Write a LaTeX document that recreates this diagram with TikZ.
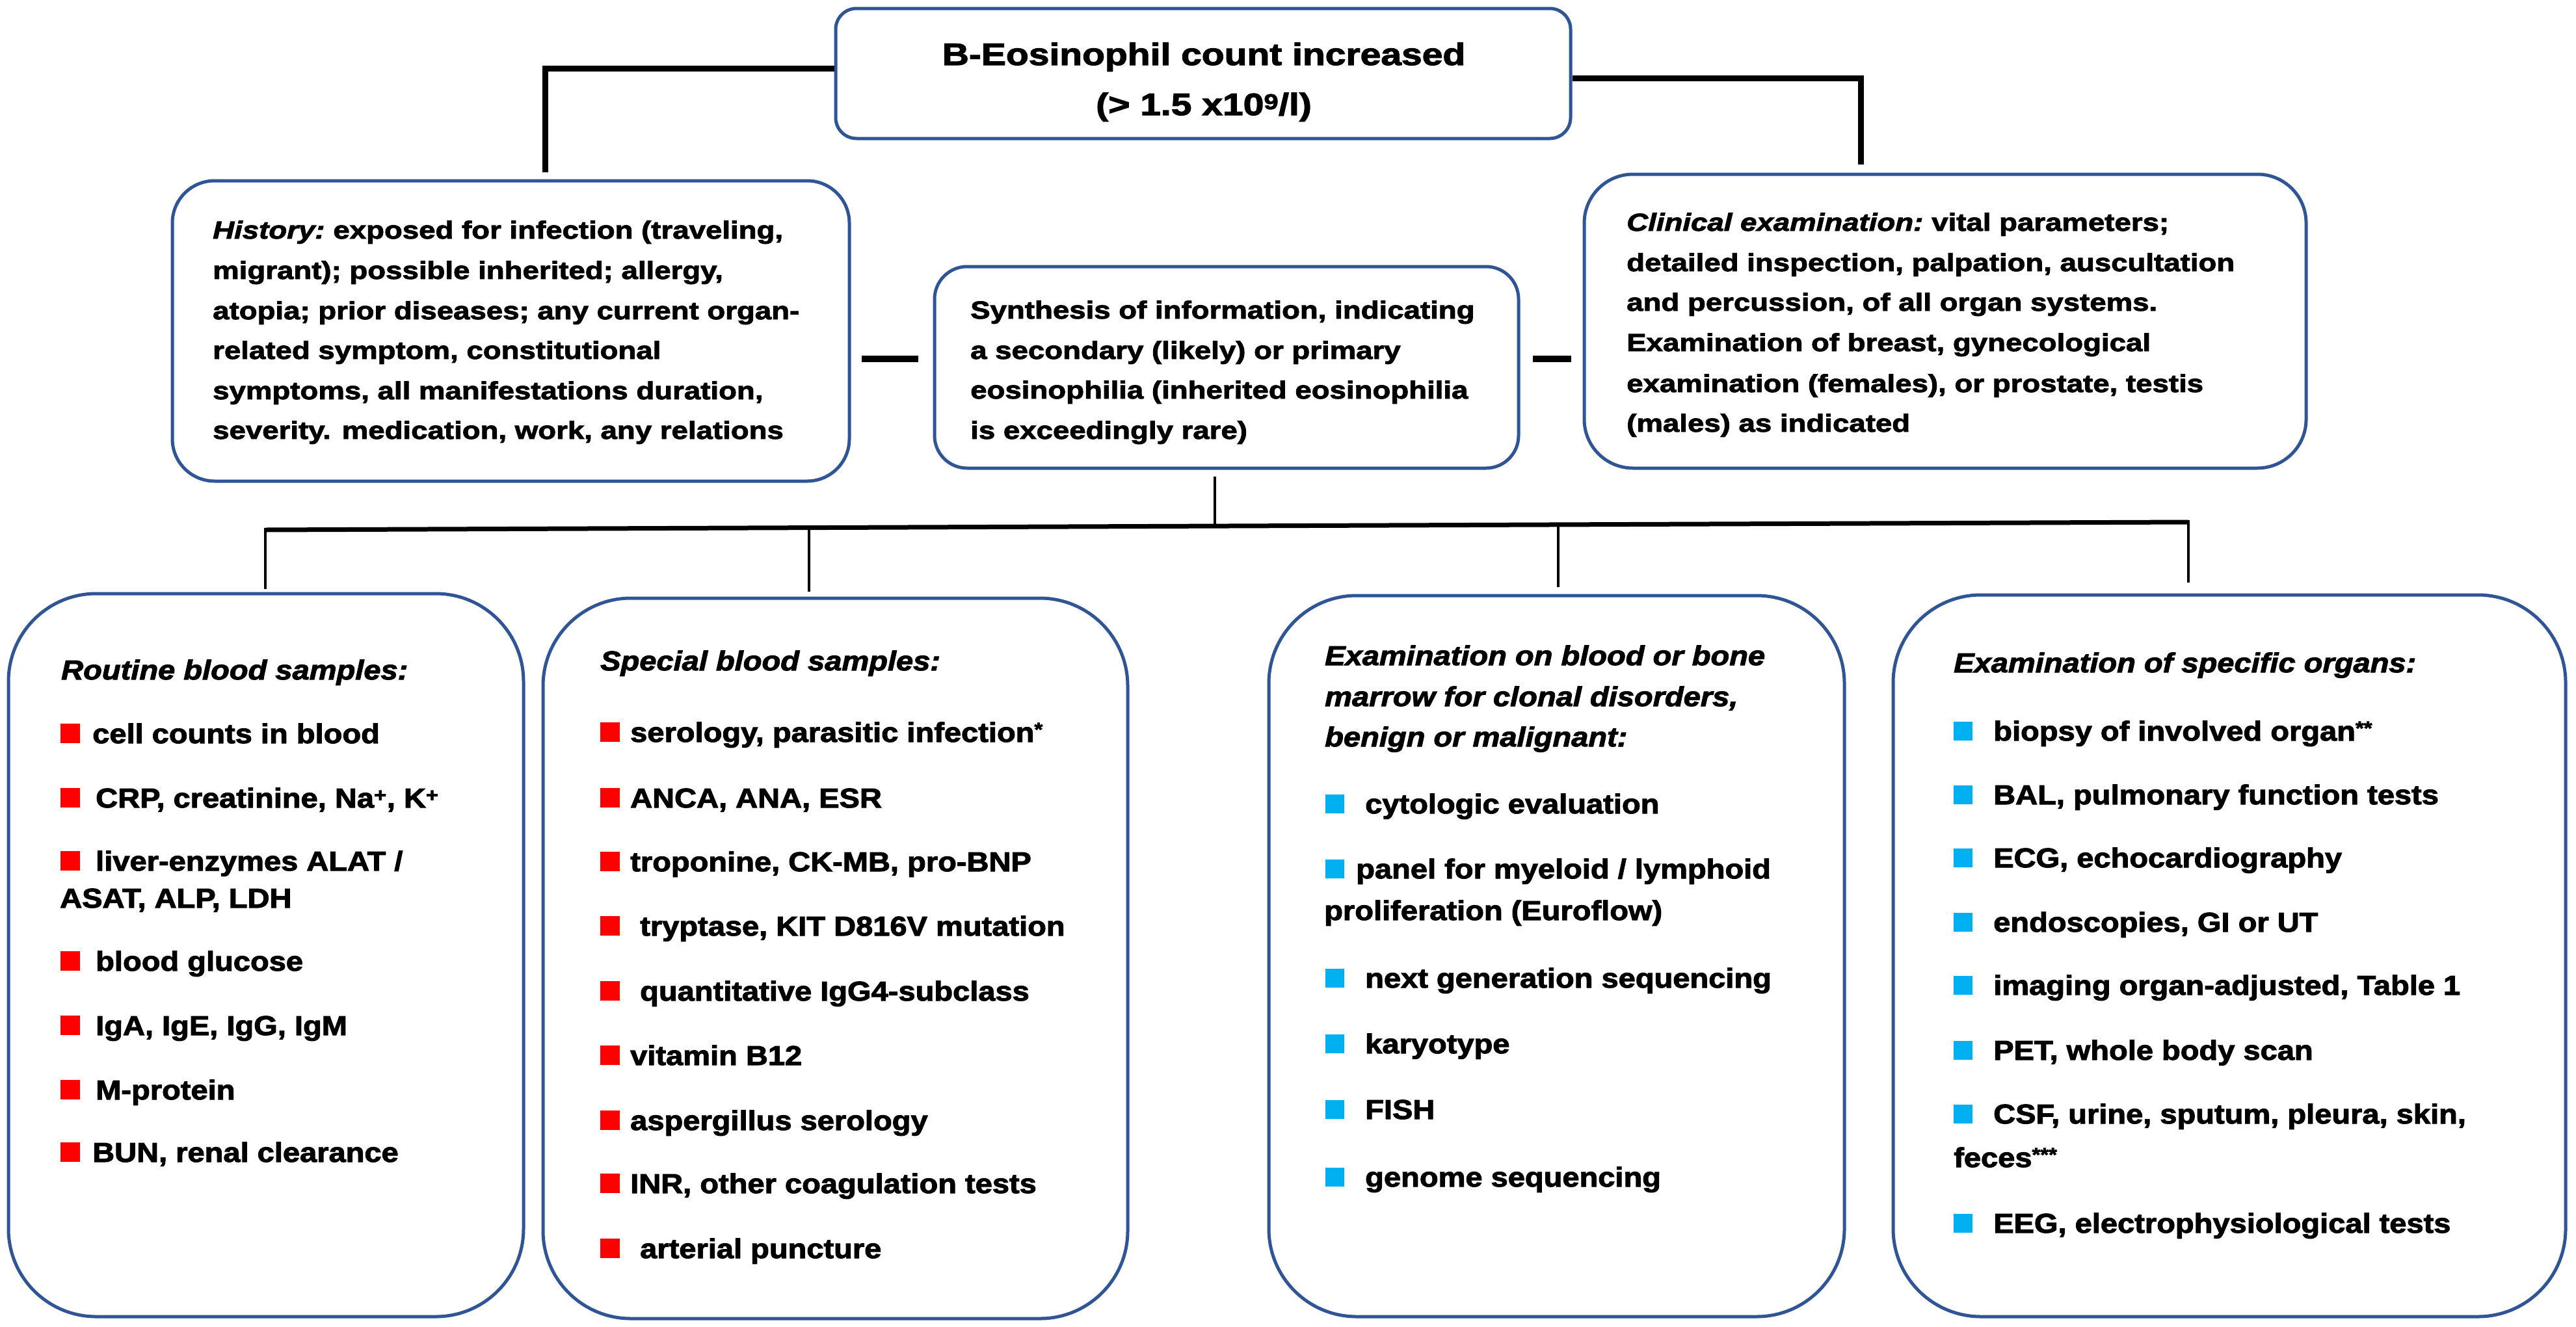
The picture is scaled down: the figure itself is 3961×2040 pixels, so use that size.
\documentclass[tikz,border=0pt]{standalone}
\usepackage{fontspec}
\setmainfont{Liberation Sans}
\newfontfamily\fa[FakeStretch=1.2,BoldFeatures={FakeBold=2.5},BoldItalicFeatures={FakeBold=2.5}]{Liberation Sans}
\newfontfamily\fb[FakeStretch=1.12,BoldFeatures={FakeBold=2.5},BoldItalicFeatures={FakeBold=2.5}]{Liberation Sans}
\definecolor{bblue}{RGB}{47,85,151}
\definecolor{bred}{RGB}{255,0,0}
\definecolor{bcyan}{RGB}{0,176,240}
\newcommand\rsq{\textcolor{bred}{\rule{30pt}{30pt}}}
\newcommand\bsq{\textcolor{bcyan}{\rule{29pt}{29pt}}}
\tikzset{
  box/.style={draw=bblue, line width=5pt, fill=white, inner sep=0pt, rectangle},
  tline/.style={anchor=base west, inner sep=0pt, font=\fa\bfseries\fontsize{38}{46}\selectfont},
  bline/.style={anchor=base west, inner sep=0pt, font=\fb\bfseries\fontsize{42}{50}\selectfont},
  headline/.style={anchor=base, inner sep=0pt, font=\fa\bfseries\fontsize{47.5}{56}\selectfont},
  heavy/.style={line width=9pt, black},
  dashln/.style={line width=10pt, black},
  barln/.style={line width=7pt, black},
  dropln/.style={line width=4pt, black},
}
\begin{document}
\begin{tikzpicture}[x=1pt,y=-1pt]
\fill[white] (0,0) rectangle (3961,2040);
\useasboundingbox (0,0) rectangle (3961,2040);

% ---------- boxes ----------
\node[box, rounded corners=32pt, minimum width=1130pt, minimum height=200pt] (top) at (1850,113) {};
\node[box, rounded corners=65pt, minimum width=1041pt, minimum height=462pt] (hist) at (785.5,509) {};
\node[box, rounded corners=50pt, minimum width=898pt, minimum height=310pt] (synth) at (1886,565) {};
\node[box, rounded corners=75pt, minimum width=1110pt, minimum height=452pt] (clin) at (2991,494) {};
\node[box, rounded corners=135pt, minimum width=792pt, minimum height=1112pt] (b1) at (409,1469) {};
\node[box, rounded corners=135pt, minimum width=899pt, minimum height=1108pt] (b2) at (1284.5,1474) {};
\node[box, rounded corners=135pt, minimum width=885pt, minimum height=1109pt] (b3) at (2393.5,1470.5) {};
\node[box, rounded corners=135pt, minimum width=1034pt, minimum height=1110pt] (b4) at (3428,1470) {};

% ---------- connectors ----------
\coordinate (a1) at (838,265);
\coordinate (a2) at (2861,253);
\draw[heavy] ([yshift=8pt]top.west) -| (a1);
\draw[heavy] ([yshift=-7pt]top.east) -| (a2);

\coordinate (d1) at (1325,552);
\coordinate (d2) at (1412,552);
\coordinate (d3) at (2357,552);
\coordinate (d4) at (2416,552);
\draw[dashln] (d1) -- (d2);
\draw[dashln] (d3) -- (d4);

\coordinate (s1) at (1868,733);
\coordinate (s2) at (1868,809);
\draw[line width=3.5pt] (s1) -- (s2);

\coordinate (e0) at (408,815);
\coordinate (e5) at (3365,803);
\draw[barln] (e0) -- (e5);
\coordinate (e2) at (1244,811.6);
\coordinate (e3) at (2396,807);
\coordinate (c1) at (408,906);
\coordinate (c2) at (1244,910);
\coordinate (c3) at (2396,903);
\coordinate (c4) at (3365,896);
\draw[dropln] ([yshift=3pt]e0) -- (c1);
\draw[dropln] (e2) -- (c2);
\draw[dropln] (e3) -- (c3);
\draw[dropln] ([yshift=3pt]e5) -- (c4);

% ---------- top box text ----------
\node[headline] (t1) at (1851,100) {B-Eosinophil count increased};
\node[headline] (t2) at (1851,177) {(> 1.5 x10\textsuperscript{9}/l)};

% ---------- history ----------
\node[tline] (h1) at (327,367) {\textit{History:}\hspace{-4pt} exposed for infection (traveling,};
\node[tline] (h2) at (327,429) {migrant); possible inherited; allergy,};
\node[tline] (h3) at (327,491) {atopia; prior diseases; any current organ-};
\node[tline] (h4) at (327,552) {related symptom, constitutional};
\node[tline] (h5) at (327,614) {symptoms, all manifestations duration,};
\node[tline] (h6) at (327,675) {severity. medication, work, any relations};

% ---------- synthesis ----------
\node[tline] (y1) at (1492,490) {Synthesis of information, indicating};
\node[tline] (y2) at (1492,552) {a secondary (likely) or primary};
\node[tline] (y3) at (1492,613) {eosinophilia (inherited eosinophilia};
\node[tline] (y4) at (1492,675) {is exceedingly rare)};

% ---------- clinical ----------
\node[tline] (k1) at (2501,355) {\textit{Clinical examination:}\hspace{-4pt} vital parameters;};
\node[tline] (k2) at (2501,417) {detailed inspection, palpation, auscultation};
\node[tline] (k3) at (2501,478) {and percussion, of all organ systems.};
\node[tline] (k4) at (2501,540) {Examination of breast, gynecological};
\node[tline] (k5) at (2501,603) {examination (females), or prostate, testis};
\node[tline] (k6) at (2501,664) {(males) as indicated};

% ---------- box 1 ----------
\node[bline] (r0) at (94,1045) {\textit{Routine blood samples:}};
\node[bline] (r1) at (93,1143) {\rsq\hspace{19pt}cell counts in blood};
\node[bline] (r2) at (93,1242) {\rsq\hspace{24pt}CRP, creatinine, Na\textsuperscript{+}, K\textsuperscript{+}};
\node[bline] (r3) at (93,1339) {\rsq\hspace{24pt}liver-enzymes ALAT /};
\node[bline] (r3b) at (92,1396) {ASAT, ALP, LDH};
\node[bline] (r4) at (93,1493) {\rsq\hspace{24pt}blood glucose};
\node[bline] (r5) at (93,1592) {\rsq\hspace{24pt}IgA, IgE, IgG, IgM};
\node[bline] (r6) at (93,1691) {\rsq\hspace{24pt}M-protein};
\node[bline] (r7) at (93,1787) {\rsq\hspace{19pt}BUN, renal clearance};

% ---------- box 2 ----------
\node[bline] (p0) at (923,1031) {\textit{Special blood samples:}};
\node[bline] (p1) at (923,1141) {\rsq\hspace{16pt}serology, parasitic infection\textsuperscript{*}};
\node[bline] (p2) at (923,1242) {\rsq\hspace{16pt}ANCA, ANA, ESR};
\node[bline] (p3) at (923,1340) {\rsq\hspace{16pt}troponine, CK-MB, pro-BNP};
\node[bline] (p4) at (923,1439) {\rsq\hspace{31pt}tryptase, KIT D816V mutation};
\node[bline] (p5) at (923,1539) {\rsq\hspace{31pt}quantitative IgG4-subclass};
\node[bline] (p6) at (923,1638) {\rsq\hspace{16pt}vitamin B12};
\node[bline] (p7) at (923,1738) {\rsq\hspace{16pt}aspergillus serology};
\node[bline] (p8) at (923,1835) {\rsq\hspace{16pt}INR, other coagulation tests};
\node[bline] (p9) at (923,1935) {\rsq\hspace{31pt}arterial puncture};

% ---------- box 3 ----------
\node[bline] (m0a) at (2037,1023) {\textit{Examination on blood or bone}};
\node[bline] (m0b) at (2037,1086) {\textit{marrow for clonal disorders,}};
\node[bline] (m0c) at (2037,1148) {\textit{benign or malignant:}};
\node[bline] (m1) at (2038,1251) {\bsq\hspace{32pt}cytologic evaluation};
\node[bline] (m2) at (2038,1351) {\bsq\hspace{18pt}panel for myeloid / lymphoid};
\node[bline] (m2b) at (2036,1415) {proliferation (Euroflow)};
\node[bline] (m3) at (2038,1519) {\bsq\hspace{32pt}next generation sequencing};
\node[bline] (m4) at (2038,1620) {\bsq\hspace{32pt}karyotype};
\node[bline] (m5) at (2038,1721) {\bsq\hspace{32pt}FISH};
\node[bline] (m6) at (2038,1825) {\bsq\hspace{32pt}genome sequencing};

% ---------- box 4 ----------
\node[bline] (o0) at (3004,1034) {\textit{Examination of specific organs:}};
\node[bline] (o1) at (3004,1139) {\bsq\hspace{32pt}biopsy of involved organ\textsuperscript{**}};
\node[bline] (o2) at (3004,1237) {\bsq\hspace{32pt}BAL, pulmonary function tests};
\node[bline] (o3) at (3004,1334) {\bsq\hspace{32pt}ECG, echocardiography};
\node[bline] (o4) at (3004,1433) {\bsq\hspace{32pt}endoscopies, GI or UT};
\node[bline] (o5) at (3004,1530) {\bsq\hspace{32pt}imaging organ-adjusted, Table 1};
\node[bline] (o6) at (3004,1630) {\bsq\hspace{32pt}PET, whole body scan};
\node[bline] (o7) at (3004,1728) {\bsq\hspace{32pt}CSF, urine, sputum, pleura, skin,};
\node[bline] (o7b) at (3004,1795) {feces\textsuperscript{***}};
\node[bline] (o8) at (3004,1896) {\bsq\hspace{32pt}EEG, electrophysiological tests};
\end{tikzpicture}
\end{document}
